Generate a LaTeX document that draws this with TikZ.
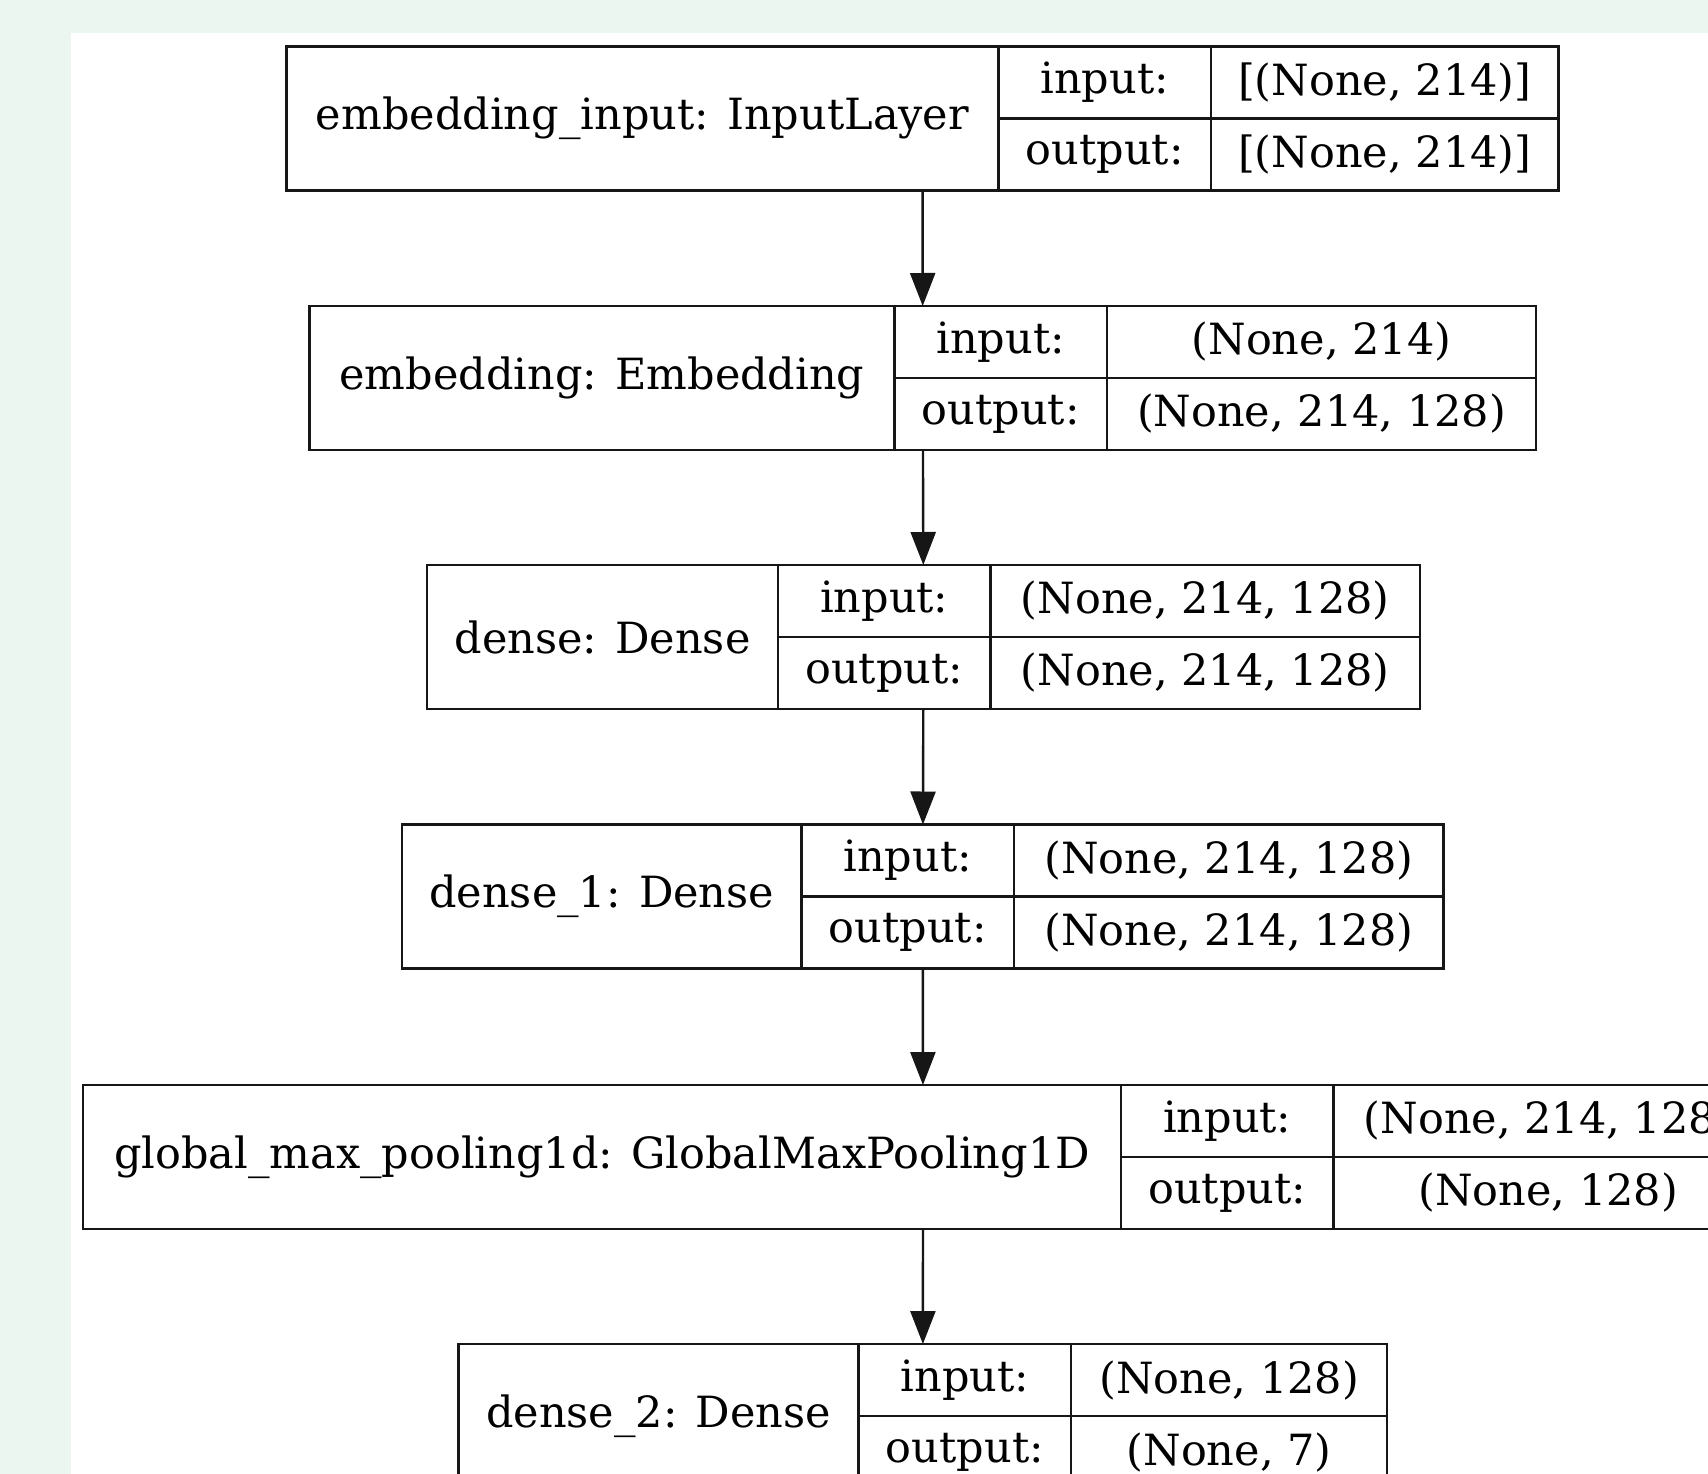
\documentclass[tikz,border=0pt]{standalone}
\usepackage{fontspec}
\setmainfont{DejaVu Serif}
\usetikzlibrary{arrows.meta, positioning, fit}
\definecolor{mint}{RGB}{236,246,241}
\definecolor{edge}{RGB}{22,22,22}
\tikzstyle{record} = [rectangle, draw=edge, line width=2.4pt, minimum height=144pt, inner sep=0pt, outer sep=0pt, font=\fontsize{43}{50}\selectfont]
\tikzstyle{port} = [rectangle, draw=edge, line width=2.4pt, minimum width=212.5pt, minimum height=72pt, inner sep=0pt, outer sep=0pt, font=\fontsize{43}{50}\selectfont]
\tikzstyle{dims} = [rectangle, draw=edge, line width=2.4pt, minimum height=72pt, inner sep=0pt, outer sep=0pt, font=\fontsize{43}{50}\selectfont]
\tikzstyle{whole} = [inner sep=0pt, outer sep=0pt]
\tikzstyle{flow} = [line width=2.4pt, draw=edge, -{Triangle[length=33pt,width=25pt]}]

\begin{document}
\begin{tikzpicture}[x=1pt, y=-1pt]
      \clip (0,0) rectangle (1708,1474);
      \fill [mint] (0,0) rectangle (1708,1474);
      \fill [white] (71,33) rectangle (1708,1474);

      \node (l1) [record, minimum width=712pt, anchor=west] at (286.5,118.5) {embedding\_input: InputLayer};
      \node (l1in) [port, anchor=south west] at (l1.east) {input:};
      \node (l1out) [port, anchor=north west] at (l1.east) {output:};
      \node (l1inv) [dims, minimum width=347.5pt, right=0pt of l1in] {[(None, 214)]};
      \node (l1outv) [dims, minimum width=347.5pt, right=0pt of l1out] {[(None, 214)]};
      \node (r1) [whole, fit=(l1)(l1inv)(l1outv)] {};

      \node (l2) [record, minimum width=585pt, anchor=west] at (309.5,378) {embedding: Embedding};
      \node (l2in) [port, anchor=south west] at (l2.east) {input:};
      \node (l2out) [port, anchor=north west] at (l2.east) {output:};
      \node (l2inv) [dims, minimum width=429pt, right=0pt of l2in] {(None, 214)};
      \node (l2outv) [dims, minimum width=429pt, right=0pt of l2out] {(None, 214, 128)};
      \node (r2) [whole, fit=(l2)(l2inv)(l2outv)] {};

      \node (l3) [record, minimum width=351pt, anchor=west] at (427,637) {dense: Dense};
      \node (l3in) [port, anchor=south west] at (l3.east) {input:};
      \node (l3out) [port, anchor=north west] at (l3.east) {output:};
      \node (l3inv) [dims, minimum width=429.5pt, right=0pt of l3in] {(None, 214, 128)};
      \node (l3outv) [dims, minimum width=429.5pt, right=0pt of l3out] {(None, 214, 128)};
      \node (r3) [whole, fit=(l3)(l3inv)(l3outv)] {};

      \node (l4) [record, minimum width=399.5pt, anchor=west] at (402,896.5) {dense\_1: Dense};
      \node (l4in) [port, anchor=south west] at (l4.east) {input:};
      \node (l4out) [port, anchor=north west] at (l4.east) {output:};
      \node (l4inv) [dims, minimum width=429.5pt, right=0pt of l4in] {(None, 214, 128)};
      \node (l4outv) [dims, minimum width=429.5pt, right=0pt of l4out] {(None, 214, 128)};
      \node (r4) [whole, fit=(l4)(l4inv)(l4outv)] {};

      \node (l5) [record, minimum width=1038pt, anchor=west] at (83,1157) {global\_max\_pooling1d: GlobalMaxPooling1D};
      \node (l5in) [port, anchor=south west] at (l5.east) {input:};
      \node (l5out) [port, anchor=north west] at (l5.east) {output:};
      \node (l5inv) [dims, minimum width=429.5pt, right=0pt of l5in] {(None, 214, 128)};
      \node (l5outv) [dims, minimum width=429.5pt, right=0pt of l5out] {(None, 128)};
      \node (r5) [whole, fit=(l5)(l5inv)(l5outv)] {};

      \node (l6) [record, minimum width=400pt, anchor=west] at (458.6,1416) {dense\_2: Dense};
      \node (l6in) [port, anchor=south west] at (l6.east) {input:};
      \node (l6out) [port, anchor=north west] at (l6.east) {output:};
      \node (l6inv) [dims, minimum width=316pt, right=0pt of l6in] {(None, 128)};
      \node (l6outv) [dims, minimum width=316pt, right=0pt of l6out] {(None, 7)};
      \node (r6) [whole, fit=(l6)(l6inv)(l6outv)] {};

      \draw [flow] (r1) -- (r2);
      \draw [flow] (r2) -- (r3);
      \draw [flow] (r3) -- (r4);
      \draw [flow] (r4) -- (r5);
      \draw [flow] (r5) -- (r6);
    \end{tikzpicture}
\end{document}
